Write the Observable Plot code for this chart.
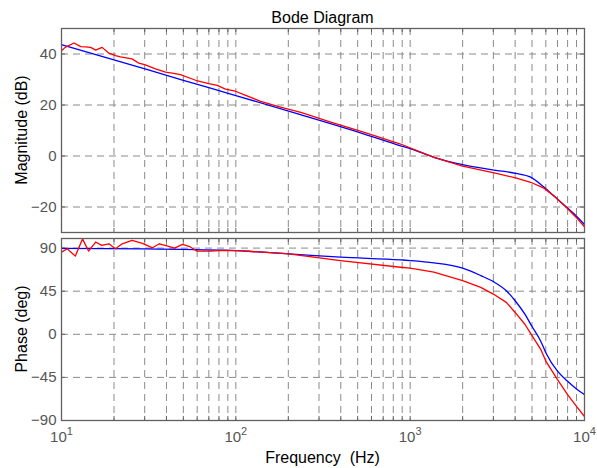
<!DOCTYPE html>
<html><head><meta charset="utf-8">
<script src="https://cdn.jsdelivr.net/npm/d3@7"></script>
<script src="https://cdn.jsdelivr.net/npm/@observablehq/plot@0.6"></script>
<style>
body{margin:0;background:#fff;}
#chart{position:relative;width:597px;height:468px;font-family:"Liberation Sans",Arial,sans-serif;background:#fff;}
#chart svg{position:absolute;left:0;overflow:visible;}
</style></head><body><div id="chart"></div>
<script>
// ---- data ----
const title = "Bode Diagram";
const magLabel = "Magnitude (dB)";
const phaseLabel = "Phase (deg)";
const freqLabel = "Frequency  (Hz)";

const magBlueFreq = [10, 20, 50, 100, 227, 546, 881, 1000, 1368, 2000, 3030, 4030, 4910, 5850, 6790, 7960, 9090, 10000];
const magBlue     = [43.7, 37.7, 29.7, 23.7, 16.5, 8.6, 4.0, 2.9, -0.5, -3.4, -5.5, -6.8, -8.3, -12.2, -16.1, -20.3, -23.9, -26.9];

const magRedFreq = [10, 10.5, 11.8, 12.9, 13.7, 14.7, 15.7, 17.1, 18.7, 20.4, 21.8, 25.4, 27.8, 30.3, 34.6, 39.5, 43.2, 48.1, 58.8, 70, 78.2, 87.3, 99.5, 113, 139, 178, 236, 350, 546, 881, 1368, 2000, 3030, 4030, 4910, 5850, 6790, 7960, 9090, 10000];
const magRed     = [41.3, 42.6, 44.3, 42.9, 42.8, 42.6, 41.5, 42.6, 40.3, 39.4, 38.9, 38.1, 36.4, 35.7, 34.2, 32.9, 32.5, 31.9, 29.7, 28.4, 27.7, 26.2, 25.4, 23.9, 21.4, 19.3, 17.1, 13.3, 9.3, 4.7, -0.5, -4.0, -6.6, -8.6, -10.3, -12.6, -16.1, -20.5, -24.5, -27.8];

const phBlueFreq = [10, 30, 93, 201, 398, 881, 1000, 1368, 2000, 2540, 3000, 3560, 4000, 4550, 5000, 5600, 6000, 7000, 8000, 9000, 10000];
const phBlue     = [89.6, 89.2, 87.5, 84.0, 80.5, 77.7, 77.0, 74.6, 69.0, 61.3, 55.0, 45.5, 35.0, 21.0, 8.1, -7.0, -19.2, -38.5, -49.0, -57.1, -63.0];

const phRedFreq = [10, 10.8, 12.0, 13.2, 14.3, 15.7, 17.0, 18.7, 20.4, 22.3, 25.4, 29.1, 33.3, 36.4, 40.7, 44.6, 49.4, 54.5, 59.7, 71.4, 85.4, 102, 201, 398, 881, 1000, 1368, 2000, 2540, 3000, 3560, 4000, 4550, 5000, 5600, 6000, 7000, 8000, 9000, 10000];
const phRed     = [85.8, 89.3, 81.6, 99.6, 86.9, 96.3, 92.8, 94.5, 89.3, 94.5, 98.0, 94.9, 90.3, 94.5, 92.0, 90.0, 93.8, 91.4, 86.9, 86.9, 87.6, 87.4, 84.0, 77.0, 70.0, 69.0, 64.8, 56.0, 49.0, 42.0, 33.3, 22.8, 10.5, -1.4, -15.4, -28.0, -47.3, -63.0, -75.3, -85.8];

const xMajor = [10, 100, 1000, 10000];
const xMinor = [20, 30, 40, 50, 60, 70, 80, 90, 100, 200, 300, 400, 500, 600, 700, 800, 900, 1000, 2000, 3000, 4000, 5000, 6000, 7000, 8000, 9000];
const xTickMarks = [20, 30, 40, 50, 60, 70, 80, 90, 100, 200, 300, 400, 500, 600, 700, 800, 900, 1000, 2000, 3000, 4000, 5000, 6000, 7000, 8000, 9000];
const magTicks = [-20, 0, 20, 40];
const phTicks = [-90, -45, 0, 45, 90];
const magDomain = [-30, 50];
const phDomain = [-90, 100];

const zip = (fs, vs) => fs.map((f, i) => ({f, v: vs[i]}));

const FONT = '"Liberation Sans", Arial, sans-serif';
const GRID = "#8a8a8a", FRAME = "#606060", TICKTXT = "#555";
const BLUE = "#0000ff", RED = "#ff0000";

function panel({domain, yTicks, yGrid, blue, red, height, marginTop, marginBottom, xAxis, tickLen}) {
  const [y0, y1] = domain;
  const xf = 1.055;
  const marks = [
    Plot.ruleX(xMinor, {stroke: GRID, strokeDasharray: "7,5", strokeWidth: 1}),
    Plot.ruleY(yGrid, {stroke: GRID, strokeDasharray: "7,5", strokeWidth: 1}),
    Plot.ruleX(xTickMarks, {y1: y0, y2: y0 + tickLen, stroke: FRAME}),
    Plot.ruleX(xTickMarks, {y1: y1 - tickLen, y2: y1, stroke: FRAME}),
    Plot.ruleY(yTicks, {x1: 10, x2: 10 * xf, stroke: FRAME}),
    Plot.ruleY(yTicks, {x1: 10000 / xf, x2: 10000, stroke: FRAME}),
    Plot.line(blue, {x: "f", y: "v", stroke: BLUE, strokeWidth: 1.3, curve: "monotone-x", clip: true}),
    Plot.line(red, {x: "f", y: "v", stroke: RED, strokeWidth: 1.3, curve: "linear", clip: true}),
    Plot.frame({stroke: FRAME, strokeWidth: 1.3}),
    Plot.axisY({ticks: yTicks, tickSize: 0, tickPadding: 5, label: null, fill: TICKTXT, fontSize: 15})
  ];
  if (xAxis) {
    marks.push(Plot.axisX({ticks: xMajor, tickSize: 0, tickPadding: 11, label: null, fill: TICKTXT, fontSize: 15,
      tickFormat: d => "10^" + Math.round(Math.log10(d))}));
  }
  return Plot.plot({
    width: 597, height, marginLeft: 61, marginRight: 13, marginTop, marginBottom,
    x: {type: "log", domain: [10, 10000], axis: null},
    y: {domain, axis: null},
    style: {fontFamily: FONT, fontSize: "15px", background: "transparent", color: TICKTXT},
    marks
  });
}

const chart = document.getElementById("chart");

const topSvg = panel({domain: magDomain, yTicks: magTicks, yGrid: magTicks,
  blue: zip(magBlueFreq, magBlue), red: zip(magRedFreq, magRed),
  height: 236, marginTop: 28, marginBottom: 4, xAxis: false, tickLen: 1.6});
topSvg.style.top = "0px";
chart.appendChild(topSvg);

const botSvg = panel({domain: phDomain, yTicks: phTicks, yGrid: [-45, 0, 45, 90],
  blue: zip(phBlueFreq, phBlue), red: zip(phRedFreq, phRed),
  height: 236, marginTop: 6, marginBottom: 48, xAxis: true, tickLen: 4.2});
botSvg.style.top = "232px";
chart.appendChild(botSvg);

// superscript exponents on the x tick labels
botSvg.querySelectorAll('g[aria-label="x-axis tick label"] text').forEach(t => {
  const s = t.textContent;
  if (!s.includes("^")) return;
  const [b, e] = s.split("^");
  t.textContent = b;
  const ts = document.createElementNS("http://www.w3.org/2000/svg", "tspan");
  ts.setAttribute("dy", "-7");
  ts.setAttribute("font-size", "11");
  ts.textContent = e;
  t.appendChild(ts);
});

// titles / axis labels
const tsvg = d3.select(topSvg), bsvg = d3.select(botSvg);
tsvg.append("text").attr("x", 322.5).attr("y", 23).attr("text-anchor", "middle")
  .attr("font-family", FONT).attr("font-size", 16).attr("fill", "#000").text(title);
tsvg.append("text").attr("transform", "translate(26.5,130) rotate(-90)").attr("text-anchor", "middle")
  .attr("font-family", FONT).attr("font-size", 16).attr("fill", "#000").text(magLabel);
bsvg.append("text").attr("transform", "translate(26.5,97) rotate(-90)").attr("text-anchor", "middle")
  .attr("font-family", FONT).attr("font-size", 16).attr("fill", "#000").text(phaseLabel);
bsvg.append("text").attr("x", 322.5).attr("y", 231).attr("text-anchor", "middle")
  .attr("font-family", FONT).attr("font-size", 16).attr("fill", "#000").text(freqLabel);
</script>
</body></html>
